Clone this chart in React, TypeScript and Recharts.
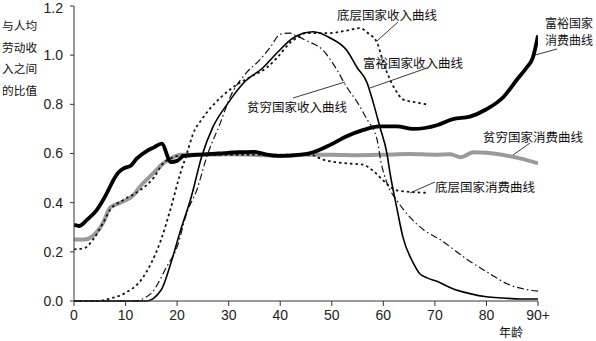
import { ComposedChart, Line, XAxis, YAxis } from "recharts";

// age / ratio pairs
const richConsAge = [0, 1, 2.5, 4.4, 6.4, 7.6, 8.5, 9.7, 11, 12.2, 14.1, 15.5, 17, 18.8, 20, 21.3, 24, 28, 32, 35, 37.4, 40, 44, 46.4, 49.7, 52.9, 56, 59.3, 62.6, 65.8, 70.4, 73.5, 76.8, 80, 83.3, 85.9, 87.8, 89, 90];
const richConsVal = [0.31, 0.305, 0.33, 0.37, 0.44, 0.49, 0.52, 0.54, 0.55, 0.58, 0.61, 0.625, 0.64, 0.565, 0.57, 0.59, 0.595, 0.6, 0.605, 0.607, 0.595, 0.59, 0.595, 0.605, 0.635, 0.67, 0.695, 0.71, 0.71, 0.7, 0.715, 0.74, 0.75, 0.78, 0.83, 0.9, 0.95, 0.99, 1.08];

const poorConsAge = [0, 2, 4.4, 5.7, 7, 9, 11.5, 12.8, 15.4, 17.3, 18.8, 20.7, 25, 30, 35, 40, 45, 50, 55, 60, 65, 70, 73, 75, 77.5, 80, 83, 86.5, 90];
const poorConsVal = [0.25, 0.25, 0.28, 0.32, 0.38, 0.4, 0.43, 0.465, 0.52, 0.56, 0.58, 0.595, 0.595, 0.597, 0.595, 0.59, 0.595, 0.595, 0.593, 0.595, 0.598, 0.595, 0.597, 0.585, 0.605, 0.603, 0.595, 0.58, 0.56];

const lowConsAge = [0, 2, 3.7, 5.7, 7, 9.5, 12.8, 15.4, 17.3, 19.4, 22, 30, 40, 45.8, 48.3, 52.9, 56, 58, 60, 61.3, 62.6, 64.6, 68.5];
const lowConsVal = [0.21, 0.215, 0.25, 0.32, 0.37, 0.41, 0.45, 0.5, 0.56, 0.585, 0.595, 0.595, 0.595, 0.595, 0.575, 0.56, 0.555, 0.53, 0.49, 0.465, 0.45, 0.445, 0.44];

const lowIncAge = [0, 4.4, 7, 9.7, 13, 15, 16.9, 18.8, 20.5, 21.9, 23, 25, 28.3, 31.6, 34.1, 37.4, 39.4, 41.9, 43.2, 45, 49.7, 52.9, 55.5, 57, 58.8, 60, 61.3, 62.6, 63.8, 65.8, 68.4];
const lowIncVal = [0, 0, 0.01, 0.03, 0.085, 0.155, 0.25, 0.38, 0.51, 0.6, 0.675, 0.745, 0.825, 0.88, 0.91, 0.95, 0.99, 1.05, 1.07, 1.09, 1.09, 1.1, 1.11, 1.09, 1.05, 0.97, 0.9, 0.85, 0.82, 0.81, 0.8];

const richIncAge = [0, 14, 16.9, 18.8, 20.7, 22.7, 24.8, 27, 29.7, 32.8, 36.7, 39.4, 42.5, 46.4, 49.7, 52.9, 54.9, 56.8, 58, 59.3, 60.7, 61.3, 62.6, 63.8, 65.8, 67.1, 68.5, 70.4, 73.5, 76.8, 80, 83.3, 86.5, 90];
const richIncVal = [0, 0, 0.045, 0.155, 0.29, 0.42, 0.59, 0.71, 0.8, 0.885, 0.95, 1.01, 1.07, 1.095, 1.07, 1.02, 0.95, 0.89, 0.81, 0.71, 0.6, 0.52, 0.38, 0.26, 0.155, 0.11, 0.094, 0.08, 0.05, 0.03, 0.017, 0.012, 0.008, 0.008];

const poorIncAge = [0, 11.6, 14.9, 18, 20, 21.9, 23.8, 25.8, 28.3, 30.3, 33.5, 36, 38, 40, 41.9, 43, 45, 48.3, 51, 52.9, 54.9, 56.8, 58.8, 59.5, 60.7, 62.6, 65.2, 67.8, 71, 76.2, 80.7, 84, 90];
const poorIncVal = [0, 0, 0.03, 0.14, 0.22, 0.36, 0.45, 0.59, 0.72, 0.83, 0.93, 0.98, 1.03, 1.085, 1.09, 1.08, 1.06, 1.02, 0.94, 0.87, 0.81, 0.74, 0.655, 0.57, 0.48, 0.41, 0.34, 0.29, 0.25, 0.17, 0.11, 0.07, 0.04];

const xTicks = [0, 10, 20, 30, 40, 50, 60, 70, 80, 90];
const yTicks = [0, 0.2, 0.4, 0.6, 0.8, 1.0, 1.2];
const yLabelLines = ["与人均", "劳动收", "入之间", "的比值"];

const toPoints = (ages: number[], vals: number[]) =>
    ages.map((age, i) => ({ age, v: vals[i] }));

const W = 596;
const H = 341;
const cjk = "'Noto Sans CJK SC', 'Noto Sans', sans-serif";
const latin = "'Liberation Sans', Arial, sans-serif";

function Notes() {
    const t = { fontFamily: cjk, fontSize: 12.5, fill: "#111" };
    const ln = { stroke: "#222", strokeWidth: 0.9 };
    return (
        <svg width={W} height={H} style={{ position: "absolute", left: 0, top: 0, pointerEvents: "none" }}>
            {yLabelLines.map((s, i) => (
                <text key={s} x={2} y={30 + i * 21.7} fontFamily={cjk} fontSize={11.7} fill="#111">
                    {s}
                </text>
            ))}
            <text x={337} y={20} {...t}>底层国家收入曲线</text>
            <line x1={398} y1={22} x2={377} y2={41} {...ln} />
            <text x={363} y={68} {...t}>富裕国家收入曲线</text>
            <line x1={427} y1={68} x2={370} y2={88} {...ln} />
            <text x={247} y={112} {...t}>贫穷国家收入曲线</text>
            <line x1={293} y1={98} x2={345} y2={82} {...ln} />
            <text x={545} y={28} {...t} fontSize={12}>富裕国家</text>
            <text x={545} y={45} {...t} fontSize={12}>消费曲线</text>
            <line x1={557} y1={49} x2={535} y2={55} {...ln} />
            <text x={483} y={142} {...t}>贫穷国家消费曲线</text>
            <line x1={530} y1={143} x2={513} y2={155} {...ln} />
            <text x={435} y={192} {...t}>底层国家消费曲线</text>
            <line x1={435} y1={182} x2={410} y2={193} {...ln} />
            <text x={523} y={337} textAnchor="end" {...t} fontSize={12}>年龄</text>
        </svg>
    );
}

export default function App() {
    const tick = { fontSize: 14, fill: "#222", fontFamily: latin };
    const axisLine = { stroke: "#333", strokeWidth: 1 };
    return (
        <div style={{ position: "absolute", left: 0, top: 0, width: W, height: H, background: "#fff" }}>
            <ComposedChart width={W} height={H} margin={{ top: 6, right: 58, bottom: 0, left: 14 }}>
                <XAxis
                    dataKey="age"
                    type="number"
                    domain={[0, 90]}
                    ticks={xTicks}
                    allowDataOverflow
                    tick={tick}
                    tickSize={5}
                    tickMargin={4}
                    height={40}
                    axisLine={axisLine}
                    tickLine={axisLine}
                    tickFormatter={(v: number) => (v === 90 ? "90+" : String(v))}
                />
                <YAxis
                    type="number"
                    domain={[0, 1.2]}
                    ticks={yTicks}
                    width={60}
                    tick={tick}
                    tickSize={4}
                    tickMargin={7}
                    axisLine={axisLine}
                    tickLine={axisLine}
                    tickFormatter={(v: number) => v.toFixed(1)}
                />
                <Line data={toPoints(poorConsAge, poorConsVal)} dataKey="v" type="monotone" stroke="#9a9a9a" strokeWidth={4} dot={false} isAnimationActive={false} />
                <Line data={toPoints(lowConsAge, lowConsVal)} dataKey="v" type="monotone" stroke="#111" strokeWidth={1.8} strokeDasharray="2.5 3" dot={false} isAnimationActive={false} />
                <Line data={toPoints(richConsAge, richConsVal)} dataKey="v" type="monotone" stroke="#000" strokeWidth={3.8} dot={false} isAnimationActive={false} />
                <Line data={toPoints(lowIncAge, lowIncVal)} dataKey="v" type="monotone" stroke="#111" strokeWidth={1.8} strokeDasharray="2.5 3" dot={false} isAnimationActive={false} />
                <Line data={toPoints(poorIncAge, poorIncVal)} dataKey="v" type="monotone" stroke="#111" strokeWidth={1.2} strokeDasharray="7 3 1.5 3" dot={false} isAnimationActive={false} />
                <Line data={toPoints(richIncAge, richIncVal)} dataKey="v" type="monotone" stroke="#000" strokeWidth={1.6} dot={false} isAnimationActive={false} />
            </ComposedChart>
            <Notes />
        </div>
    );
}
